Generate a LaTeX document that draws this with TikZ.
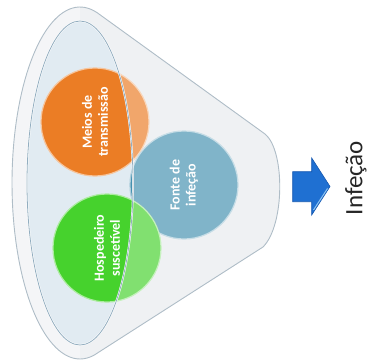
\documentclass[tikz,border=0pt]{standalone}
\usepackage{fontspec}
\setmainfont{Carlito}
\definecolor{rimline}{HTML}{AFBDC7}
\definecolor{bodyfill}{HTML}{E8EBEE}
\definecolor{lensfill}{HTML}{E1EBF2}
\definecolor{lensline}{HTML}{93AEC0}
\definecolor{orangeB}{HTML}{EB7D25}
\definecolor{greenB}{HTML}{46D22D}
\definecolor{blueB}{HTML}{4591B0}
\definecolor{arrowB}{HTML}{1F70D2}
\definecolor{arrowD}{HTML}{1558B0}
\definecolor{arrowL}{HTML}{8EC4F0}
\definecolor{labelC}{HTML}{262626}
\begin{document}
\begin{tikzpicture}[x=1pt,y=-1pt,
  bubble/.style={circle, minimum size=108pt, inner sep=0pt, text=white,
    font=\bfseries\fontsize{14}{16}\selectfont, align=center, rotate=90,
    fill=#1, draw=white!55!#1, line width=1.2pt},
  bigtext/.style={font=\fontsize{25}{28}\selectfont, text=labelC, rotate=90, inner sep=0pt}]
\useasboundingbox (0,0) rectangle (369,361);
% funnel body
\fill[bodyfill] (97.3,12.8) -- (265,134) .. controls (285,150) and (285,225) .. (263,247)
  -- (95.9,354) -- plot[domain=76.5:284.7, samples=80, variable=\a] ({80+68*cos(\a)},{183+176*sin(\a)}) -- cycle;
% lens
\fill[lensfill] (80,183) ellipse [x radius=53, y radius=162];
% circles
\node[bubble=orangeB] (meios) at (95,122) {Meios de\\transmissão};
\node[bubble=blueB] (fonte) at (184,185) {Fonte de\\infeção};
\node[bubble=greenB] (hosp) at (107,248) {Hospedeiro\\suscetível};
% translucent overlay outside the lens
\fill[white, opacity=0.32, even odd rule] (97.3,12.8) -- (265,134) .. controls (285,150) and (285,225) .. (263,247)
  -- (95.9,354) -- plot[domain=76.5:284.7, samples=80, variable=\a] ({80+68*cos(\a)},{183+176*sin(\a)}) -- cycle
  (80,183) ellipse [x radius=53, y radius=162];
% rim band on the left
\begin{scope}
  \clip (0,0) rectangle (80,361);
  \fill[white, opacity=0.35, even odd rule]
    (80,183) ellipse [x radius=68, y radius=176]
    (80,183) ellipse [x radius=53, y radius=162];
\end{scope}
% outlines
\draw[rimline, line width=0.9pt, line join=round] (97.3,12.8) -- (265,134) .. controls (285,150) and (285,225) .. (263,247)
  -- (95.9,354) -- plot[domain=76.5:284.7, samples=80, variable=\a] ({80+68*cos(\a)},{183+176*sin(\a)}) -- cycle;
\draw[white, line width=1.8pt] (80,183) ellipse [x radius=53, y radius=162];
\draw[lensline, line width=0.8pt] (80,183) ellipse [x radius=53, y radius=162];
% arrow
\filldraw[fill=arrowB, draw=arrowD, line width=0.6pt, line join=miter]
  (292.7,171.7) -- (311.7,171.7) -- (311.7,158) -- (330,186.5) -- (311.7,215) -- (311.7,201.7) -- (292.7,201.7) -- cycle;
\draw[arrowL, line width=1pt] (313.5,210) -- (327.5,188.5);
% label
\node[bigtext] (infec) at (356,178) {Infeção};
\end{tikzpicture}
\end{document}
